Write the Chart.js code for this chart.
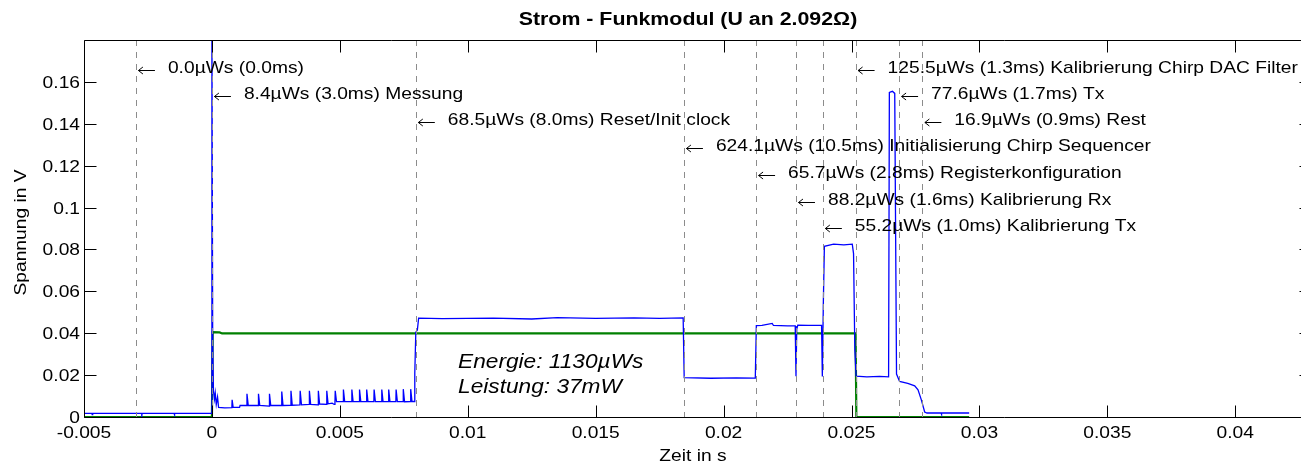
<!DOCTYPE html>
<html>
<head>
<meta charset="utf-8">
<script src="https://cdn.jsdelivr.net/npm/chart.js@4.4.0/dist/chart.umd.min.js"></script>
<style>
  html, body { margin: 0; padding: 0; background: #fff; overflow: hidden; }
  #wrap { width: 1312px; height: 468px; }
</style>
</head>
<body>
<div id="wrap"><canvas id="Chart1" width="1312" height="468"></canvas></div>
<script>
// axis ticks
var xTicks = [-0.005, 0, 0.005, 0.01, 0.015, 0.02, 0.025, 0.03, 0.035, 0.04];
var xTickLabels = ['-0.005', '0', '0.005', '0.01', '0.015', '0.02', '0.025', '0.03', '0.035', '0.04'];
var yTicks = [0, 0.02, 0.04, 0.06, 0.08, 0.1, 0.12, 0.14, 0.16];
var yTickLabels = ['0', '0.02', '0.04', '0.06', '0.08', '0.1', '0.12', '0.14', '0.16'];

// blue trace (Zeit in s / Spannung in V)
var blueX = [
  -0.005, -0.00469, -0.00468, -0.00466, -0.00275, -0.00274, -0.00272, -0.00148, -0.00147, -0.00145, -0.00002,
  0, 0.00003, 0.00006, 0.0001, 0.00013, 0.00017, 0.00022, 0.00026, 0.0005, 0.00078, 0.00079, 0.00083, 0.00108, 0.0011,
  0.00136, 0.00137, 0.00142, 0.00181, 0.00182, 0.00187, 0.00224, 0.00225, 0.0023, 0.00272, 0.00273, 0.00278,
  0.00308, 0.00309, 0.00314, 0.00344, 0.00345, 0.0035, 0.0038, 0.00381, 0.00386, 0.00415, 0.00416, 0.00421,
  0.00448, 0.00449, 0.00454, 0.0047, 0.00478, 0.00481, 0.00482, 0.00487,
  0.00513, 0.00514, 0.00519, 0.00546, 0.00547, 0.00552, 0.00576, 0.00577, 0.00582, 0.00604, 0.00605, 0.0061,
  0.00633, 0.00634, 0.00639, 0.00663, 0.00664, 0.00669, 0.0069, 0.00691, 0.00696, 0.00719, 0.0072, 0.00725,
  0.00747, 0.00748, 0.00753, 0.00776, 0.00777, 0.00782, 0.0079,
  0.00793, 0.00797, 0.00803, 0.00808, 0.009, 0.011, 0.0125, 0.0135, 0.015, 0.0165, 0.0175, 0.01842,
  0.01846, 0.0195, 0.0205, 0.02124, 0.02128, 0.0215, 0.0219, 0.02195, 0.0225, 0.0228,
  0.02283, 0.02286, 0.0229, 0.0233, 0.02383, 0.02386, 0.0239, 0.02394, 0.0243, 0.0247, 0.02503,
  0.02508, 0.02513, 0.02518, 0.0256, 0.0261, 0.02645, 0.02648, 0.0266, 0.02669, 0.02676,
  0.02688, 0.0272, 0.02747, 0.0276, 0.02773, 0.02786, 0.02795, 0.0285, 0.02851, 0.02853, 0.0296
];
var blueY = [
  0.0017, 0.0017, 0.0011, 0.0017, 0.0017, 0.0011, 0.0017, 0.0017, 0.0011, 0.0017, 0.0017,
  0.19, 0.036, 0.0125, 0.0085, 0.0115, 0.006, 0.0095, 0.0046, 0.0044, 0.0045, 0.0082, 0.0046, 0.0046, 0.0055,
  0.0055, 0.0111, 0.0055, 0.0055, 0.0111, 0.0055, 0.0052, 0.0111, 0.0055, 0.0055, 0.0122, 0.0055,
  0.0056, 0.0125, 0.0056, 0.0058, 0.0125, 0.0058, 0.0060, 0.0125, 0.0060, 0.0058, 0.0125, 0.0062,
  0.0060, 0.0125, 0.0063, 0.0066, 0.0060, 0.0072, 0.0125, 0.0073,
  0.0073, 0.0131, 0.0073, 0.0073, 0.0131, 0.0073, 0.0073, 0.0131, 0.0073, 0.0073, 0.0131, 0.0073,
  0.0073, 0.0131, 0.0073, 0.0073, 0.0131, 0.0073, 0.0073, 0.0131, 0.0073, 0.0073, 0.0131, 0.0073,
  0.0073, 0.0133, 0.0073, 0.0074, 0.0133, 0.0074, 0.0074,
  0.021, 0.0405, 0.0415, 0.0472, 0.0470, 0.0472, 0.0468, 0.0474, 0.0471, 0.0473, 0.0471, 0.0473,
  0.0188, 0.0185, 0.0187, 0.0186, 0.0436, 0.0437, 0.0447, 0.0437, 0.0435, 0.0435,
  0.0195, 0.0420, 0.0438, 0.0437, 0.0437, 0.0193, 0.055, 0.0815, 0.0825, 0.0822, 0.0825,
  0.078, 0.032, 0.0195, 0.0192, 0.0194, 0.0192, 0.155, 0.1555, 0.1545, 0.0205,
  0.0170, 0.0160, 0.0149, 0.0130, 0.0082, 0.0024, 0.0019, 0.0019, 0.0013, 0.0019, 0.0019
];

// green trace
var greenX = [-0.005, 0, 0.00003, 0.0003, 0.0004, 0.0079, 0.0184, 0.02516, 0.02519, 0.0296];
var greenY = [0, 0, 0.0405, 0.0404, 0.0399, 0.0399, 0.0399, 0.0399, 0, 0];

// phase markers: dashed line position and annotation baseline
var markerX = [-0.00297, 0, 0.00797, 0.01845, 0.02127, 0.02283, 0.02388, 0.02516, 0.02686, 0.02777];
var markerY = [0.1644, 0.1520, 0.1394, 0.1268, 0.1142, 0.1013, 0.0887, 0.1644, 0.1520, 0.1394];
var markerLabels = [
  '0.0\u00B5Ws (0.0ms)',
  '8.4\u00B5Ws (3.0ms) Messung',
  '68.5\u00B5Ws (8.0ms) Reset/Init clock',
  '624.1\u00B5Ws (10.5ms) Initialisierung Chirp Sequencer',
  '65.7\u00B5Ws (2.8ms) Registerkonfiguration',
  '88.2\u00B5Ws (1.6ms) Kalibrierung Rx',
  '55.2\u00B5Ws (1.0ms) Kalibrierung Tx',
  '125.5\u00B5Ws (1.3ms) Kalibrierung Chirp DAC Filter',
  '77.6\u00B5Ws (1.7ms) Tx',
  '16.9\u00B5Ws (0.9ms) Rest'
];

var summaryLines = ['Energie: 1130\u00B5Ws', 'Leistung: 37mW'];
var summaryX = 0.00962;
var summaryY = [0.0233, 0.0114];

var FONT = '"Liberation Sans", Arial, sans-serif';

function points(xs, ys) {
  return xs.map(function(v, i) { return { x: v, y: ys[i] }; });
}

// text slightly stretched in x, like the matlab export
function txt(ctx, s, x, y, font, align, sx, rot) {
  ctx.save();
  ctx.font = font;
  ctx.textAlign = 'left';
  ctx.textBaseline = 'alphabetic';
  ctx.fillStyle = '#000';
  var w = ctx.measureText(s).width * sx;
  var off = align === 'center' ? -w / 2 : (align === 'right' ? -w : 0);
  ctx.translate(x, y);
  if (rot) ctx.rotate(rot);
  ctx.translate(off, 0);
  ctx.scale(sx, 1);
  ctx.fillText(s, 0, 0);
  ctx.restore();
}

var matlabAxes = {
  id: 'matlabAxes',
  afterDatasetsDraw: function(chart) {
    var ctx = chart.ctx, a = chart.chartArea;
    var xs = chart.scales.x, ys = chart.scales.y;

    // dashed phase lines
    ctx.save();
    ctx.strokeStyle = '#8c8c8c';
    ctx.lineWidth = 1;
    ctx.setLineDash([6, 6]);
    markerX.forEach(function(v) {
      var px = Math.round(xs.getPixelForValue(v)) + 0.5;
      ctx.beginPath();
      ctx.moveTo(px, a.top);
      ctx.lineTo(px, a.bottom);
      ctx.stroke();
    });
    ctx.restore();

    // arrows + labels
    ctx.save();
    ctx.strokeStyle = '#000';
    ctx.lineWidth = 1;
    markerX.forEach(function(v, i) {
      var px = xs.getPixelForValue(v);
      var py = ys.getPixelForValue(markerY[i]);
      var ay = Math.round(py - 3) + 0.5;
      ctx.beginPath();
      ctx.moveTo(px + 2.5, ay);
      ctx.lineTo(px + 19, ay);
      ctx.moveTo(px + 7, ay - 3.5);
      ctx.lineTo(px + 2.5, ay);
      ctx.lineTo(px + 7, ay + 3.5);
      ctx.stroke();
      txt(ctx, markerLabels[i], px + 32, py, '17px ' + FONT, 'left', 1.13);
    });
    ctx.restore();

    summaryLines.forEach(function(s, i) {
      txt(ctx, s, xs.getPixelForValue(summaryX), ys.getPixelForValue(summaryY[i]), 'italic 21px ' + FONT, 'left', 1.08);
    });

    // box and inward ticks
    ctx.save();
    ctx.strokeStyle = '#000';
    ctx.lineWidth = 1;
    var L = a.left + 0.5, R = a.right - 0.5, T = a.top + 0.5, B = a.bottom + 0.5;
    ctx.beginPath();
    ctx.rect(L, T, R - L, B - T);
    xTicks.forEach(function(v) {
      var px = Math.round(xs.getPixelForValue(v)) + 0.5;
      ctx.moveTo(px, B); ctx.lineTo(px, B - 12);
      ctx.moveTo(px, T); ctx.lineTo(px, T + 12);
    });
    yTicks.forEach(function(v) {
      var py = Math.round(ys.getPixelForValue(v)) + 0.5;
      ctx.moveTo(L, py); ctx.lineTo(L + 12, py);
      ctx.moveTo(R, py); ctx.lineTo(R - 12, py);
    });
    ctx.stroke();
    ctx.restore();

    // tick labels
    xTicks.forEach(function(v, i) {
      txt(ctx, xTickLabels[i], xs.getPixelForValue(v), a.bottom + 21, '17px ' + FONT, 'center', 1.13);
    });
    yTicks.forEach(function(v, i) {
      txt(ctx, yTickLabels[i], a.left - 4, ys.getPixelForValue(v) + 6, '17px ' + FONT, 'right', 1.13);
    });

    // titles
    var cx = (a.left + a.right) / 2;
    txt(ctx, 'Strom - Funkmodul (U an 2.092\u03A9)', cx - 10, 25, 'bold 17.5px ' + FONT, 'center', 1.22);
    txt(ctx, 'Zeit in s', cx - 5, 461, '17px ' + FONT, 'center', 1.13);
    txt(ctx, 'Spannung in V', 26, (a.top + a.bottom) / 2 + 4, '17px ' + FONT, 'center', 1.13, -Math.PI / 2);
  }
};

var ctx1 = document.getElementById('Chart1').getContext('2d');
var myChart1 = new Chart(ctx1, {
  type: 'line',
  data: {
    datasets: [{
      label: 'Strom',
      data: points(blueX, blueY),
      borderColor: '#0000ff',
      borderWidth: 1.3,
      pointRadius: 0,
      tension: 0
    }, {
      label: 'Referenz',
      data: points(greenX, greenY),
      borderColor: '#008000',
      borderWidth: 2.2,
      pointRadius: 0,
      tension: 0
    }]
  },
  options: {
    responsive: false,
    animation: false,
    layout: { padding: { top: 40, left: 0, right: 0, bottom: 0 } },
    plugins: { legend: { display: false }, tooltip: { enabled: false } },
    scales: {
      x: {
        type: 'linear',
        min: -0.005,
        max: 0.043,
        grid: { display: false },
        border: { display: false },
        ticks: { display: false },
        afterBuildTicks: function(s) { s.ticks = xTicks.map(function(v) { return { value: v }; }); },
        afterFit: function(s) { s.height = 51; }
      },
      y: {
        type: 'linear',
        min: 0,
        max: 0.18,
        grid: { display: false },
        border: { display: false },
        ticks: { display: false },
        afterBuildTicks: function(s) { s.ticks = yTicks.map(function(v) { return { value: v }; }); },
        afterFit: function(s) { s.width = 84; }
      }
    }
  },
  plugins: [matlabAxes]
});
</script>
</body>
</html>
